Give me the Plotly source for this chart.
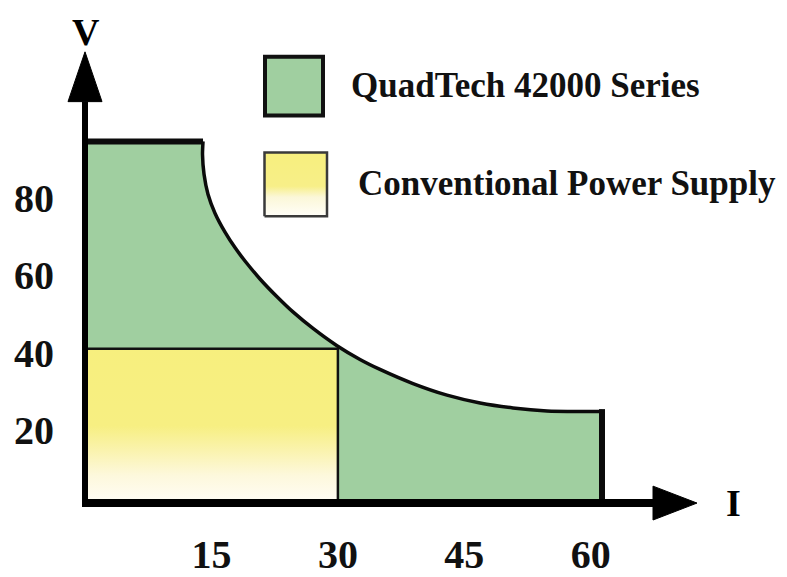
import plotly.graph_objects as go

# ---------------- data ----------------
series_names = ["QuadTech 42000 Series", "Conventional Power Supply"]

# Conventional power supply operating area (I in A, V in V)
conv_I = [0, 0, 30, 30]
conv_V = [0, 40, 40, 0]

# QuadTech 42000 operating envelope
quad_top_V = 93.68
quad_curve_I = [14.00, 13.94, 14.12, 14.59, 15.42, 16.61, 17.79, 18.98, 20.76, 22.78, 24.67,
                27.05, 29.89, 32.62, 34.99, 38.91, 42.94, 46.86, 50.77, 54.80, 58.72, 61.33]
quad_curve_V = [93.68, 90.32, 85.16, 80.00, 75.10, 70.19, 66.19, 62.71, 58.06, 53.45, 49.52,
                45.24, 40.77, 37.21, 34.63, 30.97, 27.97, 25.94, 24.65, 23.87, 23.74, 23.74]

x_tick_vals = [15, 30, 45, 60]
x_tick_text = ["15", "30", "45", "60"]
y_tick_vals = [20, 40, 60, 80]
y_tick_text = ["20", "40", "60", "80"]
x_label = "I"
y_label = "V"

# ---------------- layout helpers (screen pixels) ----------------
OFF = 8                      # page body margin
FW, FH = 779, 569            # figure size so that it fills the window
MB = 54                      # bottom margin for x tick labels
X0_PX, KX = 85.0, 8.43       # screen pixel of I=0, px per A
Y0_PX, KY = 505.0, 3.875     # screen pixel of V=0, px per V
PLOT_BOTTOM = OFF + FH - MB  # screen y of plot-area bottom


def px2I(px):
    return (px - X0_PX) / KX


def py2V(py):
    return (Y0_PX - py) / KY


def sx(px):
    return (px - OFF) / FW


def sy(py):
    return (PLOT_BOTTOM - py) / (FH - MB)


x_range = [px2I(OFF), px2I(OFF + FW)]
y_range = [py2V(PLOT_BOTTOM), py2V(OFF)]

GREEN = "#a0cfa0"
YELLOW_SCALE = [[0, "#fffdf6"], [0.18, "#fdf8dc"], [0.34, "#faf3ae"],
                [0.5, "#f7ef82"], [1, "#f7ef7e"]]
FONT = "Liberation Serif"
INK = "#0b0b0b"

fig = go.Figure()

# QuadTech fill
quad_poly_I = [0, 0] + quad_curve_I + [quad_curve_I[-1]]
quad_poly_V = [0, quad_top_V] + quad_curve_V + [0]
fig.add_trace(go.Scatter(x=quad_poly_I, y=quad_poly_V, fill="toself",
                         fillcolor=GREEN, mode="lines", line=dict(width=0),
                         name=series_names[0], hoverinfo="skip", showlegend=False))

# Conventional fill with vertical gradient
fig.add_trace(go.Scatter(x=conv_I, y=conv_V, fill="toself",
                         fillgradient=dict(type="vertical", colorscale=YELLOW_SCALE),
                         mode="lines", line=dict(color="#111", width=2.5),
                         name=series_names[1], hoverinfo="skip", showlegend=False))

# QuadTech outline
fig.add_trace(go.Scatter(x=[0, quad_curve_I[0]], y=[quad_top_V, quad_top_V], mode="lines",
                         line=dict(color=INK, width=6), hoverinfo="skip", showlegend=False))
fig.add_trace(go.Scatter(x=quad_curve_I, y=quad_curve_V, mode="lines",
                         line=dict(color=INK, width=3.5, shape="spline", smoothing=0.6),
                         hoverinfo="skip", showlegend=False))
fig.add_trace(go.Scatter(x=[quad_curve_I[-1], quad_curve_I[-1]], y=[quad_curve_V[-1] + 0.6, 0],
                         mode="lines", line=dict(color=INK, width=6),
                         hoverinfo="skip", showlegend=False))

# legend swatch (gradient) for conventional supply
sw_x0, sw_x1 = px2I(264.5), px2I(327)
sw_y0, sw_y1 = py2V(217), py2V(153)
fig.add_trace(go.Scatter(x=[sw_x0, sw_x0, sw_x1, sw_x1, sw_x0],
                         y=[sw_y0, sw_y1, sw_y1, sw_y0, sw_y0], fill="toself",
                         fillgradient=dict(type="vertical",
                                           colorscale=[[0, "#fffef8"], [0.3, "#fbf7d8"],
                                                       [0.47, "#f7ef88"], [1, "#f7ef7e"]]),
                         mode="lines", line=dict(color="#3a3a3a", width=2.5),
                         hoverinfo="skip", showlegend=False))

shapes = []
# axes lines with arrow heads
v_tip, v_base = py2V(52), py2V(102)
i_tip, i_base = px2I(697), px2I(653)
half_w_I = 17 / KX
half_h_V = 17 / KY
shapes.append(dict(type="line", xref="x", yref="y", x0=0, x1=0, y0=-4 / KY, y1=v_base,
                   line=dict(color="black", width=6)))
shapes.append(dict(type="line", xref="x", yref="y", x0=-3 / KX, x1=i_base, y0=0, y1=0,
                   line=dict(color="black", width=8)))
shapes.append(dict(type="path", xref="x", yref="y",
                   path=f"M {-half_w_I} {v_base} L 0 {v_tip} L {half_w_I} {v_base} Z",
                   fillcolor="black", line=dict(color="black", width=1)))
shapes.append(dict(type="path", xref="x", yref="y",
                   path=f"M {i_base} {-half_h_V} L {i_tip} 0 L {i_base} {half_h_V} Z",
                   fillcolor="black", line=dict(color="black", width=1)))
# green legend swatch
shapes.append(dict(type="rect", xref="paper", yref="paper",
                   x0=sx(265), x1=sx(323), y0=sy(116), y1=sy(57),
                   fillcolor=GREEN, line=dict(color="#111", width=4)))

axis_font = dict(family=FONT, size=38, color="black", weight="bold")
annotations = [
    dict(text=y_label, x=sx(86), y=sy(OFF + 1), xref="paper", yref="paper",
         showarrow=False, xanchor="center", yanchor="top", font=axis_font),
    dict(text=x_label, x=sx(733), y=sy(505), xref="paper", yref="paper",
         showarrow=False, xanchor="center", yanchor="middle", font=axis_font),
]
for txt, xl, yc in [(series_names[0], 349, 86), (series_names[1], 356, 184)]:
    annotations.append(dict(text=txt, x=sx(xl), y=sy(yc), xref="paper", yref="paper",
                            showarrow=False, xanchor="left", yanchor="middle",
                            font=dict(family=FONT, size=35, color="#111", weight="bold")))

tick_font = dict(family=FONT, size=40, color="#111", weight="bold")
fig.update_layout(
    width=FW, height=FH, margin=dict(l=0, r=0, t=0, b=MB),
    paper_bgcolor="white", plot_bgcolor="white",
    showlegend=False, hovermode=False,
    shapes=shapes, annotations=annotations,
    xaxis=dict(range=x_range, showgrid=False, zeroline=False, showline=False, ticks="",
               tickmode="array", tickvals=x_tick_vals, ticktext=x_tick_text,
               ticklabelposition="outside", ticklabelstandoff=6, tickfont=tick_font),
    yaxis=dict(range=y_range, showgrid=False, zeroline=False, showline=False, ticks="",
               tickmode="array", tickvals=y_tick_vals, ticktext=y_tick_text,
               ticklabelposition="inside", ticklabelstandoff=3, ticklabelshift=4,
               tickfont=tick_font),
)

fig.write_html("out.html")
